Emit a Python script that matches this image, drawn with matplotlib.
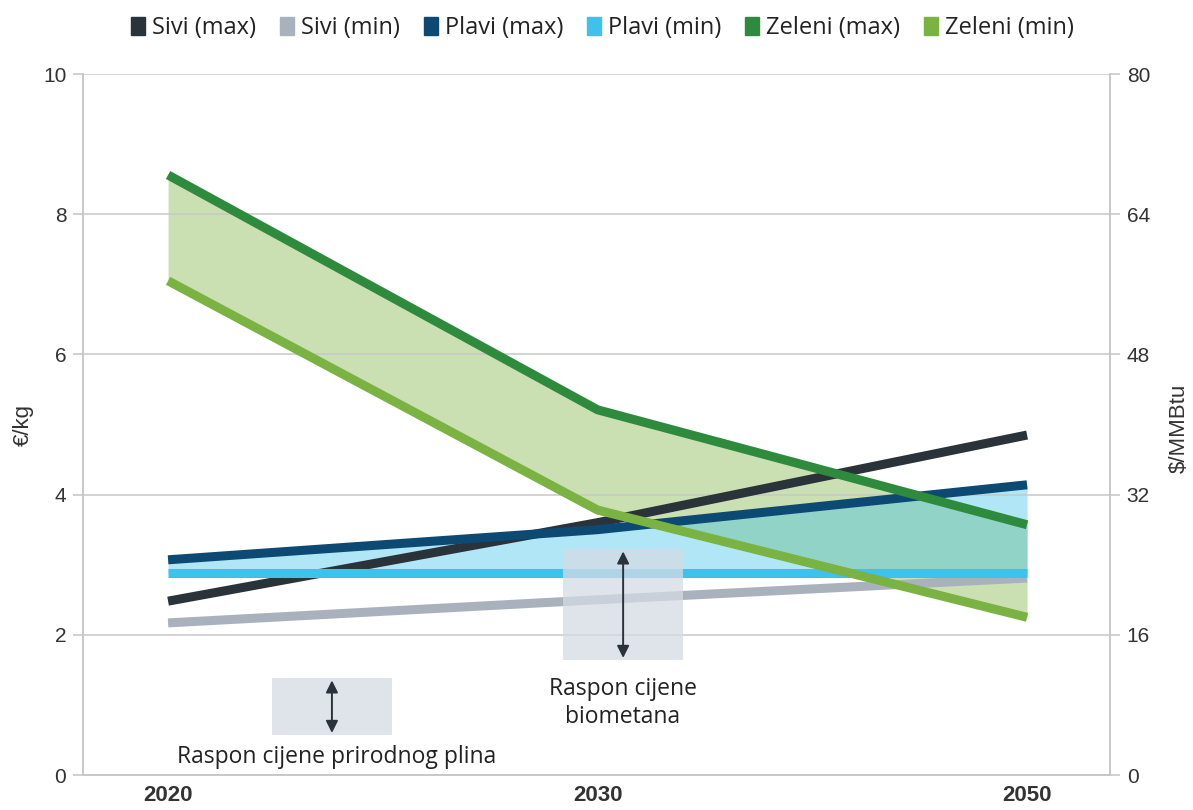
import matplotlib.pyplot as plt
import matplotlib as mpl
import numpy as np

mpl.rcParams['font.family'] = ['Open Sans', 'DejaVu Sans']

# data
years = ['2020', '2030', '2050']
sivi_max = [2.48, 3.60, 4.85]
sivi_min = [2.17, 2.50, 2.81]
plavi_max = [3.07, 3.50, 4.14]
plavi_min = [2.88, 2.88, 2.88]
zeleni_max = [8.56, 5.21, 3.57]
zeleni_min = [7.05, 3.78, 2.25]

# range boxes (x0, x1, y0, y1) in axis units
gas_box = (0.242, 0.521, 0.57, 1.38)
bio_box = (0.92, 1.199, 1.64, 3.22)

x = np.arange(len(years))

fig = plt.figure(figsize=(11.93, 8.10), dpi=100)
ax = fig.add_axes([0.0696, 0.0432, 0.8608, 0.8654])
ax2 = ax.twinx()

grid_c = '#c8c8c8'
tick_font = dict(family=['Liberation Sans', 'DejaVu Sans'], size=15)
ax.set_xlim(-0.198, 2.193)
ax.set_ylim(0, 10)
ax2.set_ylim(0, 80)
ax.set_yticks([0, 2, 4, 6, 8, 10])
ax2.set_yticks([0, 16, 32, 48, 64, 80])
ax.set_xticks(x)
ax.set_xticklabels(years)
for a in (ax, ax2):
    a.spines['top'].set_visible(False)
    for s in ['left', 'right', 'bottom']:
        a.spines[s].set_color(grid_c)
        a.spines[s].set_linewidth(1.2)
    a.tick_params(axis='y', colors=grid_c, labelcolor='#333333',
                  length=7, width=1.2, pad=5)
    for lab in a.get_yticklabels():
        lab.set_fontproperties(mpl.font_manager.FontProperties(**tick_font))
ax.tick_params(axis='x', length=0, pad=7, labelcolor='#333333')
for lab in ax.get_xticklabels():
    lab.set_fontproperties(mpl.font_manager.FontProperties(
        family=['Liberation Sans', 'DejaVu Sans'], size=16, weight='bold'))
ax.yaxis.grid(True, color=grid_c, lw=1.1, zorder=1)
ax.set_axisbelow(False)

lab_font = dict(family=['Liberation Sans', 'DejaVu Sans'], fontsize=16, color='#333333')
fig.text(23 / 1193, 1 - 425 / 810, '€/kg', rotation=90, ha='center', va='center', **lab_font)
fig.text(1179 / 1193, 1 - 428 / 810, '$/MMBtu', rotation=90, ha='center', va='center', **lab_font)

# fills
ax.fill_between(x, zeleni_min, zeleni_max, color='#7bb342', alpha=0.4, lw=0, zorder=0.5)
ax.fill_between(x, plavi_min, plavi_max, color='#3ec1ea', alpha=0.4, lw=0, zorder=0.6)

series = [
    ('Sivi (max)', sivi_max, '#2a323a'),
    ('Sivi (min)', sivi_min, '#a9b2bc'),
    ('Plavi (max)', plavi_max, '#0d4a73'),
    ('Plavi (min)', plavi_min, '#3ec1ea'),
    ('Zeleni (max)', zeleni_max, '#2e8b3e'),
    ('Zeleni (min)', zeleni_min, '#7bb342'),
]
handles = []
for name, vals, col in series:
    ax.plot(x, vals, color=col, lw=6.5, solid_capstyle='butt', zorder=3)
    handles.append(mpl.patches.Patch(color=col, label=name))

# range boxes with arrows
for (bx0, bx1, by0, by1) in (gas_box, bio_box):
    ax.add_patch(mpl.patches.Rectangle((bx0, by0), bx1 - bx0, by1 - by0,
                                       facecolor='#d5dbe5', alpha=0.75, lw=0, zorder=4))
    xm = (bx0 + bx1) / 2
    ax.annotate('', xy=(xm, by1 - 0.03), xytext=(xm, by0 + 0.03),
                arrowprops=dict(arrowstyle='<|-|>', color='#2a323a', lw=1.4,
                                mutation_scale=18, shrinkA=0, shrinkB=0), zorder=5)

ax.text(0.392, 0.25, 'Raspon cijene prirodnog plina', fontsize=16.5, color='#222222',
        ha='center', va='center', zorder=5)
ax.text(1.059, 1.03, 'Raspon cijene\nbiometana', fontsize=16.5, color='#222222',
        ha='center', va='center', linespacing=1.2, zorder=5)

fig.legend(handles=handles, loc='center', bbox_to_anchor=(0.505, 0.965), ncol=6,
           frameon=False, fontsize=17, handlelength=0.6, handleheight=0.8,
           handletextpad=0.3, columnspacing=1.0, labelcolor='#222222')

fig.savefig('out.png', dpi=100)
